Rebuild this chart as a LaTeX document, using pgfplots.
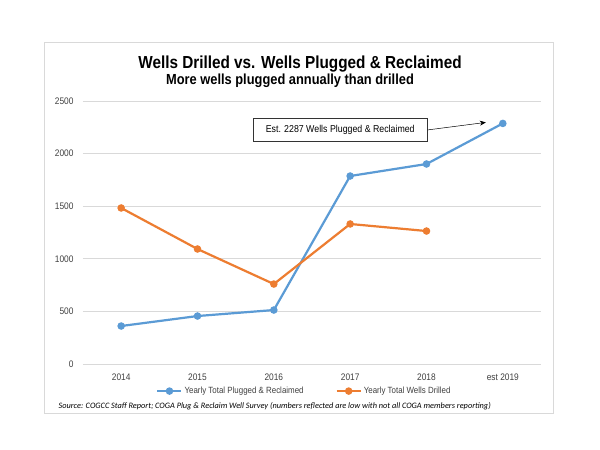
\documentclass[border=0pt]{standalone}
\usepackage{pgfplots}
\pgfplotsset{compat=1.18}
\usepackage{fontspec}
\setmainfont{Liberation Sans}
\newfontfamily\narrowfont[FakeStretch=0.88]{Liberation Sans}
\newfontfamily\srcfont{Carlito}
\usetikzlibrary{arrows.meta}
\definecolor{plugblue}{HTML}{5B9BD5}
\definecolor{drillorange}{HTML}{ED7D31}
\definecolor{gridgray}{HTML}{D9D9D9}
\definecolor{labelgray}{HTML}{404040}
\begin{document}
\begin{tikzpicture}[x=1pt,y=1pt]
\useasboundingbox[fill=white] (0,0) rectangle (600,450);
% chart frame
\draw[gridgray,line width=0.8pt] (44,408) rectangle (553,37);
\node[font=\narrowfont\bfseries\fontsize{17.4}{20}\selectfont] at (300,386) {Wells Drilled vs. Wells Plugged \& Reclaimed};
\node[font=\narrowfont\bfseries\fontsize{14.6}{17}\selectfont] at (290,369) {More wells plugged annually than drilled};
\begin{axis}[
    at={(83pt,86pt)}, anchor=south west,
    scale only axis,
    width=458pt, height=263pt,
    xmin=-0.5, xmax=5.5,
    ymin=0, ymax=2500,
    xtick={0,1,2,3,4,5},
    xticklabels={2014,2015,2016,2017,2018,est 2019},
    ytick={0,500,1000,1500,2000,2500},
    ymajorgrids,
    grid style={gridgray,line width=0.8pt},
    axis line style={draw=none},
    major tick length=0pt,
    tick label style={font=\narrowfont\fontsize{9.5}{11}\selectfont, text=labelgray},
    yticklabel style={xshift=-6pt},
    xticklabel style={yshift=-6pt},
    /pgf/number format/assume math mode=true,
    /pgf/number format/1000 sep={},
    clip=false,
    legend columns=2,
    legend style={at={(0.4835,-0.103)}, anchor=center, draw=none, fill=none,
        font=\narrowfont\fontsize{9}{11}\selectfont, text=labelgray,
        /tikz/every even column/.append style={column sep=30pt}},
    legend image code/.code={
        \draw[#1,mark repeat=2,mark phase=2] plot coordinates {(0pt,0pt) (12pt,0pt) (24pt,0pt)};},
]
\addplot[plugblue, line width=2.2pt, mark=*, mark size=2.6pt, mark options={solid}] coordinates {
    (0,361) (1,456) (2,513) (3,1787) (4,1901) (5,2287)
};
\addlegendentry{Yearly Total Plugged \& Reclaimed}
\addplot[drillorange, line width=2.2pt, mark=*, mark size=2.6pt, mark options={solid}] coordinates {
    (0,1483) (1,1093) (2,760) (3,1331) (4,1264)
};
\addlegendentry{Yearly Total Wells Drilled}
\node[draw=black!80, line width=0.8pt, fill=white, minimum width=174pt, minimum height=23pt,
      font=\narrowfont\fontsize{10}{12}\selectfont] (ann) at (axis cs:2.87,2225) {Est. 2287 Wells Plugged \& Reclaimed};
\draw[-{Stealth[length=6pt,width=5pt]}, line width=0.5pt] (ann.east) -- ([xshift=-17pt,yshift=1pt]axis cs:5,2287);
\end{axis}
\node[font=\srcfont\itshape\fontsize{8.3}{10}\selectfont, anchor=west] at (55,44) {Source: COGCC Staff Report; COGA Plug \& Reclaim Well Survey (numbers reflected are low with not all COGA members reporting)};
\end{tikzpicture}
\end{document}
